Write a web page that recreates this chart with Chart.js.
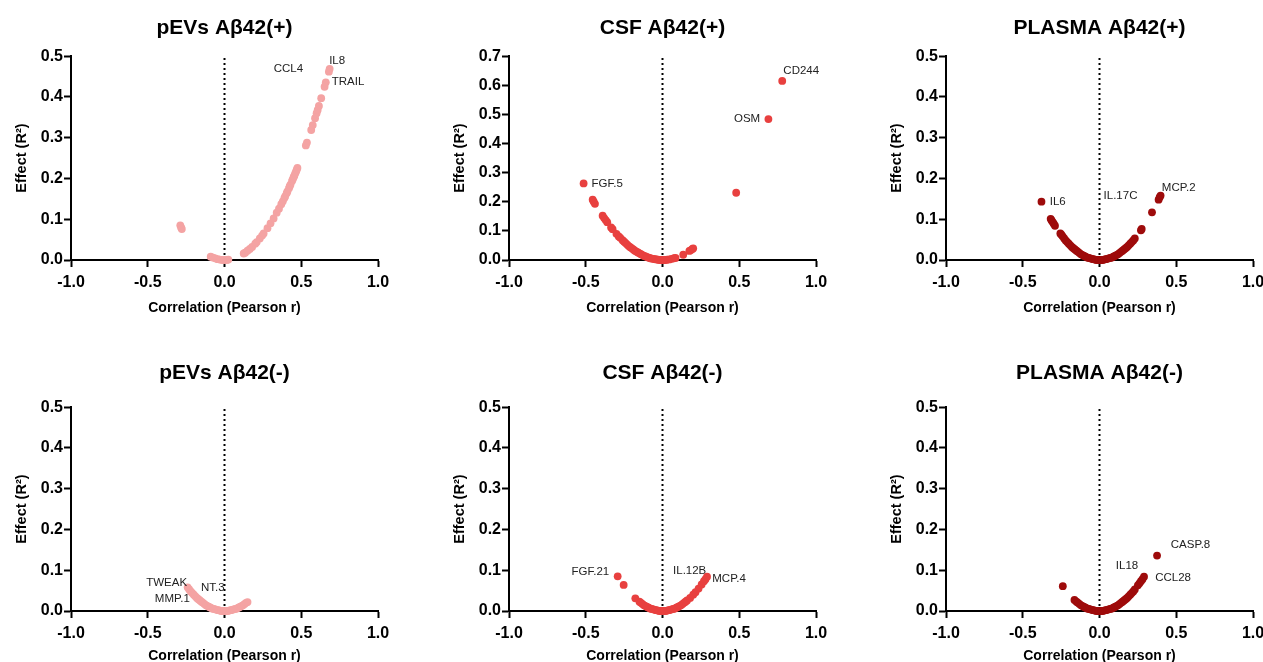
<!DOCTYPE html>
<html>
<head>
<meta charset="utf-8">
<script src="https://cdn.jsdelivr.net/npm/chart.js@4.4.1/dist/chart.umd.min.js"></script>
<style>
  html, body { margin: 0; padding: 0; background: #fff; overflow: hidden; width: 1263px; height: 662px; }
  .panel { position: absolute; }
</style>
</head>
<body>
<div class="panel" style="left:0px;top:0px"><canvas id="c1" width="396" height="330"></canvas></div>
<div class="panel" style="left:438px;top:0px"><canvas id="c2" width="396" height="330"></canvas></div>
<div class="panel" style="left:875px;top:0px"><canvas id="c3" width="396" height="330"></canvas></div>
<div class="panel" style="left:0px;top:351px"><canvas id="c4" width="396" height="330"></canvas></div>
<div class="panel" style="left:438px;top:351px"><canvas id="c5" width="396" height="330"></canvas></div>
<div class="panel" style="left:875px;top:351px"><canvas id="c6" width="396" height="330"></canvas></div>
<script>
// Colours per sample type
const pevsColor = '#F4A3A3';
const csfColor = '#E8403F';
const plasmaColor = '#9E0B0B';

// pEVs Aβ42(+)
const pevsPosR = [-0.288, -0.283, -0.278, -0.09, -0.075, -0.06, -0.045, -0.03, -0.015, 0.0, 0.015, 0.025,
  0.125, 0.135, 0.15, 0.165, 0.18, 0.2, 0.21, 0.23, 0.245, 0.255, 0.28, 0.3, 0.32, 0.34, 0.355, 0.37, 0.38,
  0.39, 0.395, 0.405, 0.41, 0.42, 0.425, 0.43, 0.44, 0.445, 0.45, 0.455, 0.46, 0.465, 0.47, 0.475,
  0.53, 0.537, 0.565, 0.575, 0.59, 0.6, 0.607, 0.615, 0.63, 0.652, 0.66, 0.68, 0.685];
const pevsPosR2 = [0.085, 0.08, 0.076, 0.008, 0.006, 0.004, 0.002, 0.001, 0.0, 0.0, 0.0, 0.001,
  0.016, 0.018, 0.023, 0.027, 0.032, 0.04, 0.044, 0.053, 0.06, 0.065, 0.078, 0.09, 0.102, 0.116, 0.126, 0.137, 0.144,
  0.152, 0.156, 0.164, 0.168, 0.176, 0.181, 0.185, 0.194, 0.198, 0.203, 0.207, 0.212, 0.216, 0.221, 0.226,
  0.281, 0.288, 0.319, 0.331, 0.348, 0.36, 0.368, 0.378, 0.397, 0.425, 0.436, 0.462, 0.469];
const pevsPosLabels = ['CCL4', 'IL8', 'TRAIL'];
const pevsPosLabelR = [0.416, 0.734, 0.805];
const pevsPosLabelR2 = [0.47, 0.488, 0.436];

// CSF Aβ42(+)
const csfPosR = [-0.514, -0.455, -0.448, -0.44, -0.39, -0.38, -0.37, -0.36, -0.335, -0.325, -0.3, -0.285, -0.275,
  -0.26, -0.25, -0.24, -0.23, -0.22, -0.21, -0.2, -0.19, -0.18, -0.17, -0.16, -0.15, -0.14, -0.13, -0.12, -0.11,
  -0.1, -0.09, -0.08, -0.07, -0.06, -0.05, -0.04, -0.03, -0.02, -0.01, 0.0, 0.01, 0.02, 0.03, 0.045, 0.06, 0.075,
  0.085, 0.135, 0.175, 0.185, 0.195, 0.2, 0.48, 0.69, 0.78];
const csfPosR2 = [0.263, 0.207, 0.2, 0.193, 0.152, 0.144, 0.137, 0.13, 0.112, 0.106, 0.09, 0.081, 0.076,
  0.068, 0.063, 0.058, 0.053, 0.048, 0.044, 0.04, 0.036, 0.032, 0.029, 0.026, 0.023, 0.02, 0.017, 0.014, 0.012,
  0.01, 0.008, 0.006, 0.005, 0.004, 0.003, 0.002, 0.001, 0.0, 0.0, 0.0, 0.0, 0.0, 0.001, 0.002, 0.004, 0.006,
  0.007, 0.018, 0.031, 0.034, 0.038, 0.04, 0.231, 0.484, 0.615];
const csfPosLabels = ['FGF.5', 'OSM', 'CD244'];
const csfPosLabelR = [-0.36, 0.551, 0.904];
const csfPosLabelR2 = [0.263, 0.486, 0.65];

// PLASMA Aβ42(+)
const plasmaPosR = [-0.378, -0.318, -0.312, -0.305, -0.298, -0.29, -0.255, -0.248, -0.24, -0.23, -0.22, -0.21,
  -0.2, -0.19, -0.18, -0.17, -0.16, -0.15, -0.14, -0.13, -0.12, -0.11, -0.1, -0.09, -0.08, -0.07, -0.06, -0.05,
  -0.04, -0.03, -0.02, -0.01, 0.0, 0.01, 0.02, 0.03, 0.04, 0.05, 0.06, 0.07, 0.08, 0.09, 0.1, 0.11, 0.12, 0.13,
  0.14, 0.15, 0.16, 0.17, 0.18, 0.19, 0.2, 0.21, 0.22, 0.23, 0.27, 0.275, 0.342, 0.385, 0.392, 0.398];
const plasmaPosR2 = [0.143, 0.101, 0.097, 0.093, 0.089, 0.084, 0.065, 0.062, 0.058, 0.053, 0.048, 0.044,
  0.04, 0.036, 0.032, 0.029, 0.026, 0.023, 0.02, 0.017, 0.014, 0.012, 0.01, 0.008, 0.006, 0.005, 0.004, 0.003,
  0.002, 0.001, 0.0, 0.0, 0.0, 0.0, 0.0, 0.001, 0.002, 0.003, 0.004, 0.005, 0.006, 0.008, 0.01, 0.012, 0.014, 0.017,
  0.02, 0.023, 0.026, 0.029, 0.032, 0.036, 0.04, 0.044, 0.048, 0.053, 0.073, 0.076, 0.117, 0.148, 0.154, 0.158];
const plasmaPosLabels = ['IL6', 'IL.17C', 'MCP.2'];
const plasmaPosLabelR = [-0.272, 0.137, 0.516];
const plasmaPosLabelR2 = [0.143, 0.157, 0.177];

// pEVs Aβ42(-)
const pevsNegR = [-0.24, -0.23, -0.22, -0.21, -0.2, -0.19, -0.18, -0.17, -0.16, -0.15, -0.14, -0.13, -0.12,
  -0.11, -0.1, -0.09, -0.08, -0.07, -0.06, -0.05, -0.04, -0.03, -0.02, -0.01, 0.0, 0.01, 0.02, 0.03, 0.04, 0.05,
  0.06, 0.07, 0.08, 0.09, 0.1, 0.11, 0.12, 0.13, 0.14, 0.15];
const pevsNegR2 = [0.058, 0.053, 0.048, 0.044, 0.04, 0.036, 0.032, 0.029, 0.026, 0.023, 0.02, 0.017, 0.014,
  0.012, 0.01, 0.008, 0.006, 0.005, 0.004, 0.003, 0.002, 0.001, 0.0, 0.0, 0.0, 0.0, 0.0, 0.001, 0.002, 0.003,
  0.004, 0.005, 0.006, 0.008, 0.01, 0.012, 0.014, 0.017, 0.02, 0.022];
const pevsNegLabels = ['TWEAK', 'MMP.1', 'NT.3'];
const pevsNegLabelR = [-0.377, -0.34, -0.076];
const pevsNegLabelR2 = [0.068, 0.029, 0.056];

// CSF Aβ42(-)
const csfNegR = [-0.292, -0.253, -0.177, -0.15, -0.14, -0.13, -0.12, -0.11, -0.1, -0.09, -0.08, -0.07, -0.06,
  -0.05, -0.04, -0.03, -0.02, -0.01, 0.0, 0.01, 0.02, 0.03, 0.04, 0.05, 0.06, 0.07, 0.08, 0.09, 0.1, 0.11, 0.12,
  0.13, 0.14, 0.15, 0.16, 0.18, 0.2, 0.215, 0.235, 0.255, 0.27, 0.28, 0.29];
const csfNegR2 = [0.085, 0.064, 0.031, 0.023, 0.02, 0.017, 0.014, 0.012, 0.01, 0.008, 0.006, 0.005, 0.004,
  0.003, 0.002, 0.001, 0.0, 0.0, 0.0, 0.0, 0.0, 0.001, 0.002, 0.003, 0.004, 0.005, 0.006, 0.008, 0.01, 0.012, 0.014,
  0.017, 0.02, 0.023, 0.026, 0.032, 0.04, 0.046, 0.055, 0.065, 0.073, 0.078, 0.084];
const csfNegLabels = ['FGF.21', 'IL.12B', 'MCP.4'];
const csfNegLabelR = [-0.47, 0.177, 0.434];
const csfNegLabelR2 = [0.095, 0.099, 0.078];

// PLASMA Aβ42(-)
const plasmaNegR = [-0.239, -0.163, -0.15, -0.14, -0.13, -0.12, -0.11, -0.1, -0.09, -0.08, -0.07, -0.06, -0.05,
  -0.04, -0.03, -0.02, -0.01, 0.0, 0.01, 0.02, 0.03, 0.04, 0.05, 0.06, 0.07, 0.08, 0.09, 0.1, 0.11, 0.12, 0.13,
  0.14, 0.15, 0.16, 0.17, 0.18, 0.19, 0.2, 0.21, 0.22, 0.23, 0.25, 0.26, 0.27, 0.28, 0.29, 0.375];
const plasmaNegR2 = [0.061, 0.027, 0.023, 0.02, 0.017, 0.014, 0.012, 0.01, 0.008, 0.006, 0.005, 0.004, 0.003,
  0.002, 0.001, 0.0, 0.0, 0.0, 0.0, 0.0, 0.001, 0.002, 0.003, 0.004, 0.005, 0.006, 0.008, 0.01, 0.012, 0.014, 0.017,
  0.02, 0.023, 0.026, 0.029, 0.032, 0.036, 0.04, 0.044, 0.048, 0.053, 0.063, 0.068, 0.073, 0.078, 0.084, 0.136];
const plasmaNegLabels = ['CASP.8', 'IL18', 'CCL28'];
const plasmaNegLabelR = [0.593, 0.179, 0.479];
const plasmaNegLabelR2 = [0.163, 0.11, 0.082];

// Axis ticks
const xTicks = [-1.0, -0.5, 0.0, 0.5, 1.0];
const yMaxDefault = 0.5;
const yMaxCsfPos = 0.7;

const fontFamily = '"Liberation Sans", Arial, Helvetica, sans-serif';

// draws the gene names next to their points
const geneLabelPlugin = {
    id: 'geneLabels',
    afterDatasetsDraw(chart) {
        const cfg = chart.options.plugins.geneLabels;
        if (!cfg) return;
        const ctx = chart.ctx;
        const xs = chart.scales.x, ys = chart.scales.y;
        ctx.save();
        ctx.font = '11.5px ' + fontFamily;
        ctx.fillStyle = '#222';
        ctx.textAlign = 'center';
        ctx.textBaseline = 'middle';
        cfg.names.forEach((name, i) => {
            ctx.fillText(name, xs.getPixelForValue(cfg.r[i]), ys.getPixelForValue(cfg.r2[i]));
        });
        ctx.restore();
    }
};

function makePanel(id, title, r, r2, color, yMax, names, labelR, labelR2, row) {
    const points = r.map((v, i) => ({ x: v, y: r2[i] }));
    const titlePad = row === 0 ? { top: 16, bottom: 15 } : { top: 10, bottom: 21 };
    const xTitlePad = row === 0 ? 13 : 16;

    new Chart(document.getElementById(id), {
        type: 'scatter',
        data: {
            datasets: [
                {
                    data: points,
                    backgroundColor: color,
                    borderWidth: 0,
                    pointRadius: 3.9,
                    clip: false,
                    order: 1
                },
                {
                    type: 'line',
                    data: [{ x: 0, y: 0 }, { x: 0, y: yMax }],
                    borderColor: '#000',
                    borderWidth: 2,
                    borderDash: [2, 3],
                    pointRadius: 0,
                    order: 2
                }
            ]
        },
        options: {
            responsive: false,
            animation: false,
            events: [],
            layout: { padding: { left: 0, right: 18, top: 0, bottom: 0 } },
            plugins: {
                legend: { display: false },
                tooltip: { enabled: false },
                title: {
                    display: true,
                    text: title,
                    fullSize: false,
                    color: '#000',
                    font: { family: fontFamily, size: 21, weight: 'bold' },
                    padding: titlePad
                },
                geneLabels: { names: names, r: labelR, r2: labelR2 }
            },
            scales: {
                x: {
                    type: 'linear',
                    min: -1,
                    max: 1,
                    afterFit: s => { s.height = 70; },
                    afterBuildTicks: s => { s.ticks = xTicks.map(v => ({ value: v })); },
                    ticks: {
                        color: '#000',
                        font: { family: fontFamily, size: 16, weight: 'bold' },
                        padding: 6,
                        maxRotation: 0,
                        autoSkip: false,
                        callback: v => v.toFixed(1)
                    },
                    grid: { drawOnChartArea: false, tickLength: 7, tickWidth: 2, tickColor: '#000' },
                    border: { color: '#000', width: 2 },
                    title: {
                        display: true,
                        text: 'Correlation (Pearson r)',
                        color: '#000',
                        font: { family: fontFamily, size: 14, weight: 'bold' },
                        padding: { top: 0, bottom: xTitlePad }
                    }
                },
                y: {
                    type: 'linear',
                    min: 0,
                    max: yMax,
                    afterFit: s => { s.width = 71; },
                    ticks: {
                        stepSize: 0.1,
                        color: '#000',
                        font: { family: fontFamily, size: 16, weight: 'bold' },
                        padding: 1,
                        callback: v => v.toFixed(1)
                    },
                    grid: { drawOnChartArea: false, tickLength: 7, tickWidth: 2, tickColor: '#000' },
                    border: { color: '#000', width: 2 },
                    title: {
                        display: true,
                        text: 'Effect (R²)',
                        color: '#000',
                        font: { family: fontFamily, size: 14.5, weight: 'bold' },
                        padding: { top: 13, bottom: 0 }
                    }
                }
            }
        },
        plugins: [geneLabelPlugin]
    });
}

makePanel('c1', 'pEVs Aβ42(+)', pevsPosR, pevsPosR2, pevsColor, yMaxDefault, pevsPosLabels, pevsPosLabelR, pevsPosLabelR2, 0);
makePanel('c2', 'CSF Aβ42(+)', csfPosR, csfPosR2, csfColor, yMaxCsfPos, csfPosLabels, csfPosLabelR, csfPosLabelR2, 0);
makePanel('c3', 'PLASMA Aβ42(+)', plasmaPosR, plasmaPosR2, plasmaColor, yMaxDefault, plasmaPosLabels, plasmaPosLabelR, plasmaPosLabelR2, 0);
makePanel('c4', 'pEVs Aβ42(-)', pevsNegR, pevsNegR2, pevsColor, yMaxDefault, pevsNegLabels, pevsNegLabelR, pevsNegLabelR2, 1);
makePanel('c5', 'CSF Aβ42(-)', csfNegR, csfNegR2, csfColor, yMaxDefault, csfNegLabels, csfNegLabelR, csfNegLabelR2, 1);
makePanel('c6', 'PLASMA Aβ42(-)', plasmaNegR, plasmaNegR2, plasmaColor, yMaxDefault, plasmaNegLabels, plasmaNegLabelR, plasmaNegLabelR2, 1);
</script>
</body>
</html>
